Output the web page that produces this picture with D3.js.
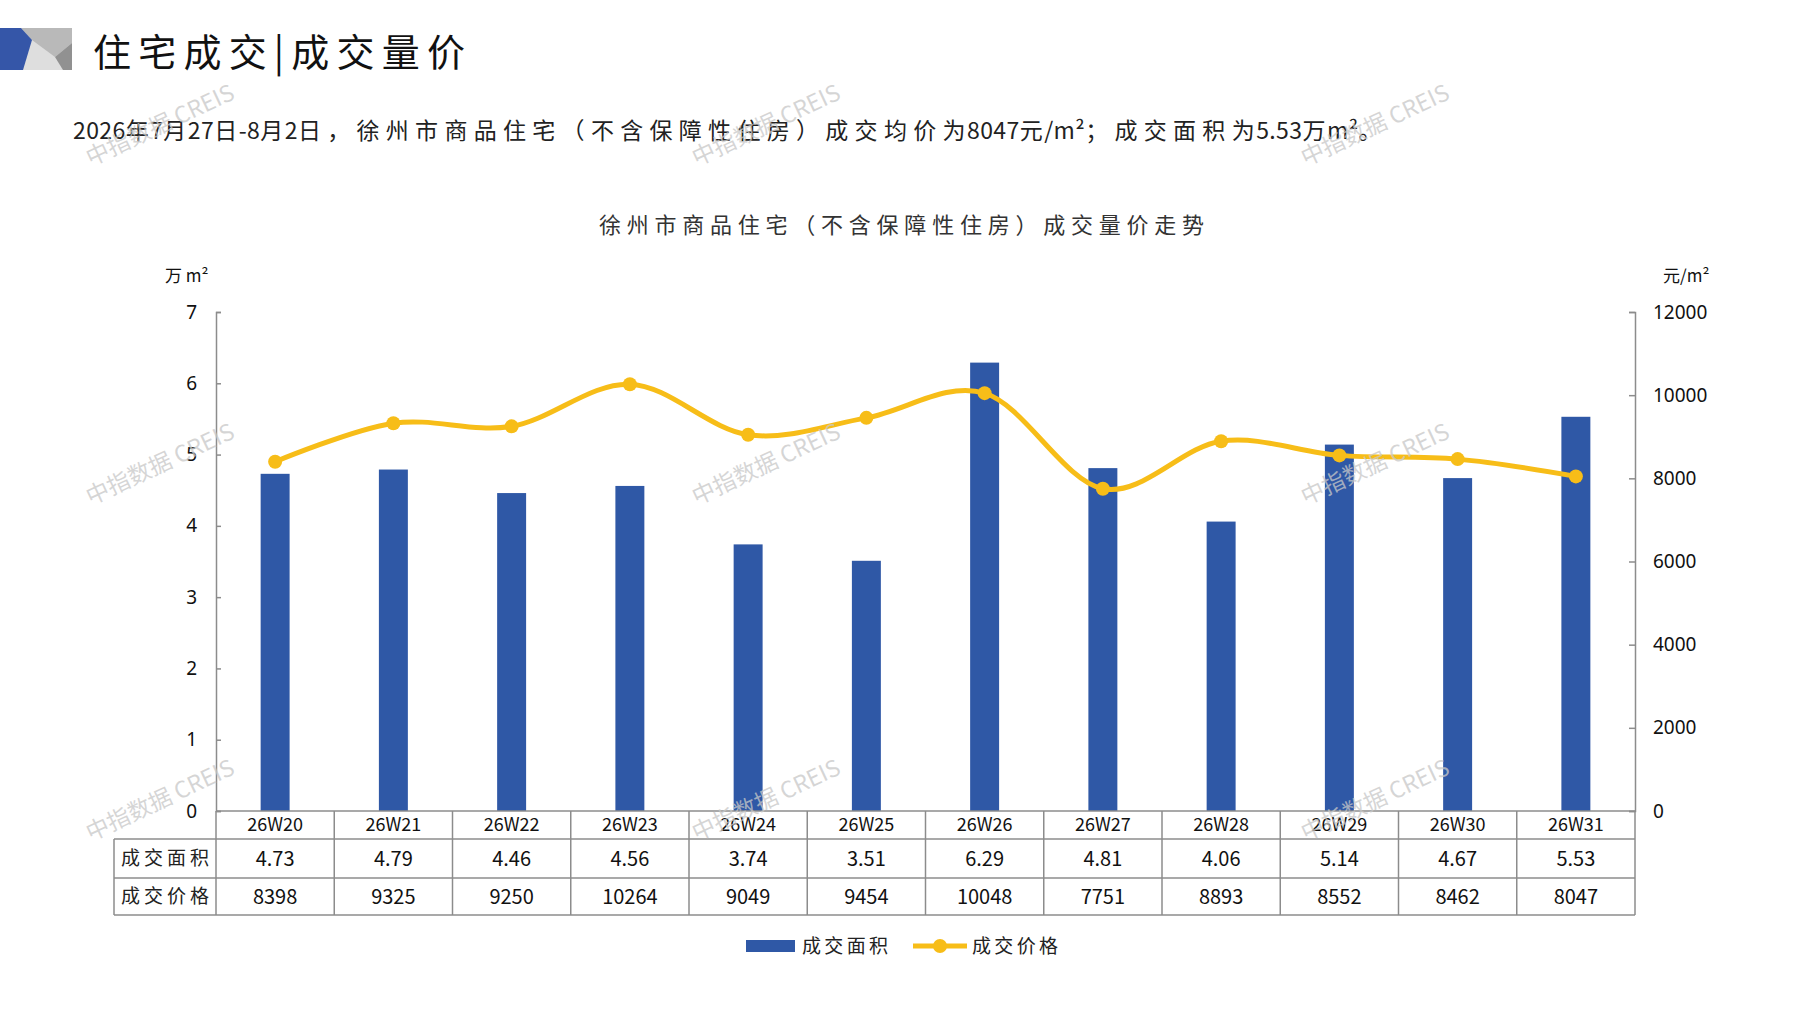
<!DOCTYPE html>
<html>
<head>
<meta charset="utf-8">
<script src="https://cdn.jsdelivr.net/npm/d3@7"></script>
<style>
    body { margin: 0; background: #fff; }
    text { font-family: "Noto Sans CJK SC", "Noto Sans", sans-serif; }
</style>
</head>
<body>
<svg id="chart" width="1797" height="1010"></svg>
<script>
// chart data
const weeks = ["26W20", "26W21", "26W22", "26W23", "26W24", "26W25", "26W26", "26W27", "26W28", "26W29", "26W30", "26W31"];
const areaValues = [4.73, 4.79, 4.46, 4.56, 3.74, 3.51, 6.29, 4.81, 4.06, 5.14, 4.67, 5.53];
const priceValues = [8398, 9325, 9250, 10264, 9049, 9454, 10048, 7751, 8893, 8552, 8462, 8047];
const areaTicks = [0, 1, 2, 3, 4, 5, 6, 7];
const priceTicks = [0, 2000, 4000, 6000, 8000, 10000, 12000];
const rowNames = ["成交面积", "成交价格"];

const barColor = "#2f58a6";
const lineColor = "#f7bd18";
const gridGrey = "#8c8c8c";

const svg = d3.select("#chart");

// header block in the top-left corner
const head = svg.append("g");
head.append("rect").attr("x", 0).attr("y", 28).attr("width", 72).attr("height", 42).attr("fill", "#dedede");
head.append("polygon").attr("points", "21,28 72,28 72,43 55,57 32,40").attr("fill", "#b9b9b9");
head.append("polygon").attr("points", "72,43 72,70 63,70 55,57").attr("fill", "#919191");
head.append("polygon").attr("points", "0,28 21,28 32,40 23,70 0,70").attr("fill", "#3556a8");

head.append("text")
    .attr("x", 93).attr("y", 66)
    .attr("font-size", 38)
    .attr("textLength", 372).attr("lengthAdjust", "spacing")
    .attr("fill", "#111")
    .text("住宅成交|成交量价");

// subtitle: wide spacing between Chinese characters, tight around digits
const subtitle = "2026年7月27日-8月2日，徐州市商品住宅（不含保障性住房）成交均价为8047元/m²；成交面积为5.53万m²。";
const subText = svg.append("text")
    .attr("x", 73).attr("y", 139)
    .attr("font-size", 23)
    .attr("fill", "#222");
subtitle.split(/([\x00-\xff]+)/).filter(s => s.length).forEach(run => {
    if (/^[\x00-\xff]+$/.test(run)) {
        subText.append("tspan").style("letter-spacing", "0.4px").text(run);
    } else {
        if (run.length > 1) {
            subText.append("tspan").style("letter-spacing", "6.3px").text(run.slice(0, -1));
        }
        subText.append("tspan").style("letter-spacing", "1.5px").text(run.slice(-1));
    }
});

svg.append("text")
    .attr("x", 599).attr("y", 233)
    .attr("font-size", 22)
    .attr("textLength", 605).attr("lengthAdjust", "spacing")
    .attr("fill", "#333")
    .text("徐州市商品住宅（不含保障性住房）成交量价走势");

// plot area
const plotLeft = 216, plotRight = 1635, plotTop = 312, plotBottom = 811;

const x = d3.scaleBand()
    .domain(weeks)
    .range([plotLeft, plotRight])
    .padding(0);

const yArea = d3.scaleLinear().domain([0, 7]).range([plotBottom, plotTop]);
const yPrice = d3.scaleLinear().domain([0, 12000]).range([plotBottom, plotTop]);

// bars
const barW = x.bandwidth() * 0.245;
svg.append("g").selectAll("rect")
    .data(areaValues)
    .enter()
    .append("rect")
    .attr("x", (d, i) => x(weeks[i]) + x.bandwidth() / 2 - barW / 2)
    .attr("y", d => yArea(d))
    .attr("width", barW)
    .attr("height", d => yArea(0) - yArea(d))
    .attr("fill", barColor);

// left axis
const leftAxis = svg.append("g")
    .attr("transform", `translate(${plotLeft},0)`)
    .call(d3.axisLeft(yArea).tickValues(areaTicks).tickSize(-5).tickPadding(19).tickFormat(d3.format("d")));
leftAxis.select(".domain").attr("stroke", gridGrey).attr("stroke-width", 1.5);
leftAxis.selectAll(".tick line").attr("stroke", gridGrey).attr("stroke-width", 1.5);
leftAxis.selectAll(".tick text").attr("font-size", 19).attr("fill", "#111")
    .style("font-family", "'Noto Sans', sans-serif");

// right axis
const rightAxis = svg.append("g")
    .attr("transform", `translate(${plotRight},0)`)
    .call(d3.axisRight(yPrice).tickValues(priceTicks).tickSize(-6).tickPadding(18).tickFormat(d3.format("d")));
rightAxis.select(".domain").attr("stroke", gridGrey).attr("stroke-width", 1.5);
rightAxis.selectAll(".tick line").attr("stroke", gridGrey).attr("stroke-width", 1.5);
rightAxis.selectAll(".tick text").attr("font-size", 19).attr("fill", "#111")
    .style("font-family", "'Noto Sans', sans-serif");

// unit labels
svg.append("text").attr("x", 165).attr("y", 282).attr("font-size", 17).attr("fill", "#111").text("万 m²");
svg.append("text").attr("x", 1663).attr("y", 282).attr("font-size", 17).attr("fill", "#111").text("元/m²");

// price line (smoothed)
const line = d3.line()
    .x((d, i) => x(weeks[i]) + x.bandwidth() / 2)
    .y(d => yPrice(d))
    .curve(d3.curveCatmullRom.alpha(0));

svg.append("path")
    .datum(priceValues)
    .attr("d", line)
    .attr("fill", "none")
    .attr("stroke", lineColor)
    .attr("stroke-width", 5);

svg.append("g").selectAll("circle")
    .data(priceValues)
    .enter()
    .append("circle")
    .attr("cx", (d, i) => x(weeks[i]) + x.bandwidth() / 2)
    .attr("cy", d => yPrice(d))
    .attr("r", 7)
    .attr("fill", lineColor);

// data table under the plot
const tableLeft = 114;
const rowLines = [811, 839, 878, 915];
const table = svg.append("g").attr("stroke", gridGrey).attr("stroke-width", 1.5);

// horizontal lines
table.append("line").attr("x1", plotLeft).attr("x2", plotRight).attr("y1", rowLines[0]).attr("y2", rowLines[0]);
rowLines.slice(1).forEach(y => {
    table.append("line").attr("x1", tableLeft).attr("x2", plotRight).attr("y1", y).attr("y2", y);
});
// vertical lines
table.append("line").attr("x1", tableLeft).attr("x2", tableLeft).attr("y1", rowLines[1]).attr("y2", rowLines[3]);
weeks.forEach(w => {
    table.append("line").attr("x1", x(w)).attr("x2", x(w)).attr("y1", rowLines[0]).attr("y2", rowLines[3]);
});
table.append("line").attr("x1", plotRight).attr("x2", plotRight).attr("y1", rowLines[0]).attr("y2", rowLines[3]);

const cellMid = i => (rowLines[i] + rowLines[i + 1]) / 2;

svg.append("g").selectAll("text")
    .data(weeks)
    .enter()
    .append("text")
    .attr("x", d => x(d) + x.bandwidth() / 2)
    .attr("y", cellMid(0))
    .attr("dy", "0.36em")
    .attr("text-anchor", "middle")
    .attr("font-size", 18)
    .attr("fill", "#111")
    .text(d => d);

svg.append("g").selectAll("text")
    .data(areaValues)
    .enter()
    .append("text")
    .attr("x", (d, i) => x(weeks[i]) + x.bandwidth() / 2)
    .attr("y", cellMid(1))
    .attr("dy", "0.36em")
    .attr("text-anchor", "middle")
    .attr("font-size", 20)
    .attr("fill", "#111")
    .text(d => d.toFixed(2));

svg.append("g").selectAll("text")
    .data(priceValues)
    .enter()
    .append("text")
    .attr("x", (d, i) => x(weeks[i]) + x.bandwidth() / 2)
    .attr("y", cellMid(2))
    .attr("dy", "0.36em")
    .attr("text-anchor", "middle")
    .attr("font-size", 20)
    .attr("fill", "#111")
    .text(d => d);

rowNames.forEach((name, i) => {
    svg.append("text")
        .attr("x", 121)
        .attr("y", cellMid(i + 1))
        .attr("dy", "0.36em")
        .attr("font-size", 19)
        .attr("textLength", 88).attr("lengthAdjust", "spacing")
        .attr("fill", "#222")
        .text(name);
});

// legend
const legend = svg.append("g");
legend.append("rect").attr("x", 746).attr("y", 940).attr("width", 49).attr("height", 12).attr("fill", barColor);
legend.append("text").attr("x", 802).attr("y", 946).attr("dy", "0.36em").attr("font-size", 19)
    .attr("textLength", 86).attr("lengthAdjust", "spacing").attr("fill", "#222").text("成交面积");
legend.append("line").attr("x1", 913).attr("x2", 967).attr("y1", 946).attr("y2", 946)
    .attr("stroke", lineColor).attr("stroke-width", 5);
legend.append("circle").attr("cx", 940).attr("cy", 946).attr("r", 7).attr("fill", lineColor);
legend.append("text").attr("x", 972).attr("y", 946).attr("dy", "0.36em").attr("font-size", 19)
    .attr("textLength", 86).attr("lengthAdjust", "spacing").attr("fill", "#222").text("成交价格");

// watermarks
const markX = [160, 766, 1375];
const markY = [125, 464, 800];
const marks = svg.append("g").attr("pointer-events", "none");
markY.forEach(my => {
    markX.forEach(mx => {
        marks.append("text")
            .attr("transform", `translate(${mx},${my}) rotate(-25)`)
            .attr("text-anchor", "middle")
            .attr("dy", "0.35em")
            .attr("font-size", 23)
            .attr("fill", "#c8c8c8")
            .attr("fill-opacity", 0.75)
            .text("中指数据 CREIS");
    });
});
</script>
</body>
</html>
